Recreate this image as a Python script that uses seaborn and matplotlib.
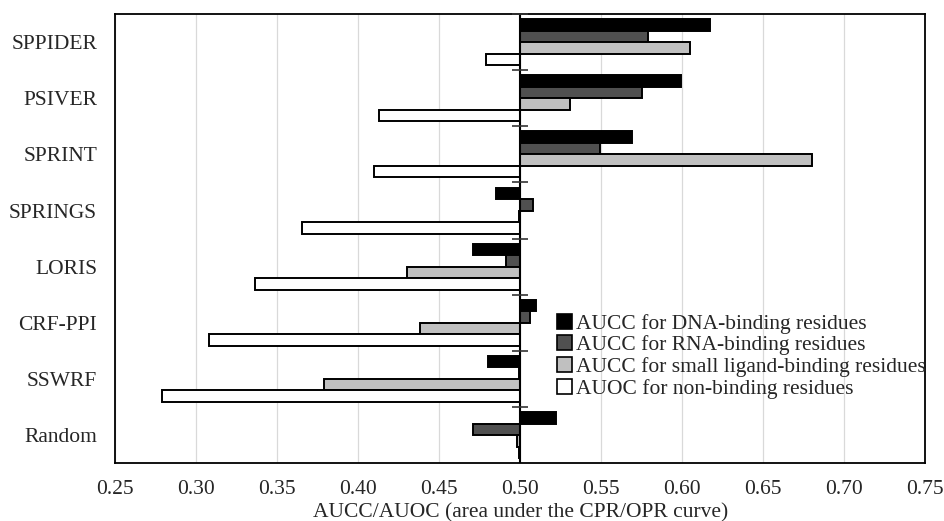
import numpy as np
import pandas as pd
import matplotlib.pyplot as plt
import seaborn as sns
from matplotlib.ticker import FuncFormatter

# Methods (top to bottom) and the four measured quantities
methods = ["SPPIDER", "PSIVER", "SPRINT", "SPRINGS", "LORIS", "CRF-PPI", "SSWRF", "Random"]
series = [
    "AUCC for DNA-binding residues",
    "AUCC for RNA-binding residues",
    "AUCC for small ligand-binding residues",
    "AUOC for non-binding residues",
]
dna = [0.617, 0.599, 0.569, 0.485, 0.471, 0.510, 0.480, 0.522]
rna = [0.579, 0.575, 0.549, 0.508, 0.491, 0.506, 0.499, 0.471]
ligand = [0.605, 0.531, 0.680, 0.499, 0.430, 0.438, 0.379, 0.498]
nonbinding = [0.479, 0.413, 0.410, 0.365, 0.336, 0.308, 0.279, 0.499]

# Bars grow out of the random level
baseline = 0.5
colors = ["#000000", "#505050", "#c0c0c0", "#ffffff"]
fs = 15.5

df = pd.DataFrame({"method": methods, series[0]: dna, series[1]: rna,
                   series[2]: ligand, series[3]: nonbinding})
df = df.melt(id_vars="method", var_name="series", value_name="value")
df["offset"] = df["value"] - baseline

sns.set_theme(style="white")
plt.rcParams["font.family"] = ["Liberation Serif", "DejaVu Serif"]

fig, ax = plt.subplots(figsize=(9.45, 5.21), dpi=100)
sns.barplot(
    data=df, x="offset", y="method", hue="series",
    order=methods, hue_order=series, palette=colors, saturation=1,
    orient="h", width=0.82, edgecolor="black", linewidth=1.4, ax=ax,
)

# x axis shows the real AUC values
ax.set_xlim(0.25 - baseline, 0.75 - baseline)
ax.set_xticks(np.arange(-0.25, 0.2501, 0.05))
ax.xaxis.set_major_formatter(FuncFormatter(lambda v, _: f"{v + baseline:.2f}"))
ax.grid(axis="x", color="#d9d9d9", linewidth=0.9)
ax.set_axisbelow(True)

# vertical axis crossing at 0.5 with category separators
ax.axvline(0, color="black", linewidth=1.5, zorder=5)
ax.plot(np.zeros(len(methods)), np.arange(len(methods)) - 0.5, ls="none",
        marker="_", ms=12, mew=1.2, color="#333333", zorder=6, clip_on=False)
ax.set_ylim(len(methods) - 0.5, -0.5)

ax.tick_params(axis="x", direction="in", length=5, width=1, color="#333333",
               pad=12, labelsize=fs)
ax.tick_params(axis="y", length=0, pad=13, labelsize=fs)
for sp in ax.spines.values():
    sp.set_color("black")
    sp.set_linewidth(1.3)

ax.set_xlabel("AUCC/AUOC (area under the CPR/OPR curve)", fontsize=fs, labelpad=3)
ax.set_ylabel("")

handles, labels = ax.get_legend_handles_labels()
for h in handles:
    h.set_edgecolor("black")
    h.set_linewidth(1.2)
ax.legend(handles, labels, loc="upper left", bbox_to_anchor=(0.545, 0.333),
          frameon=False, fontsize=fs, handlelength=0.7, handleheight=0.7,
          handletextpad=0.2, labelspacing=0.08, borderpad=0, borderaxespad=0)

fig.subplots_adjust(left=0.122, right=0.979, top=0.973, bottom=0.111)
fig.savefig("out.png", dpi=100)
